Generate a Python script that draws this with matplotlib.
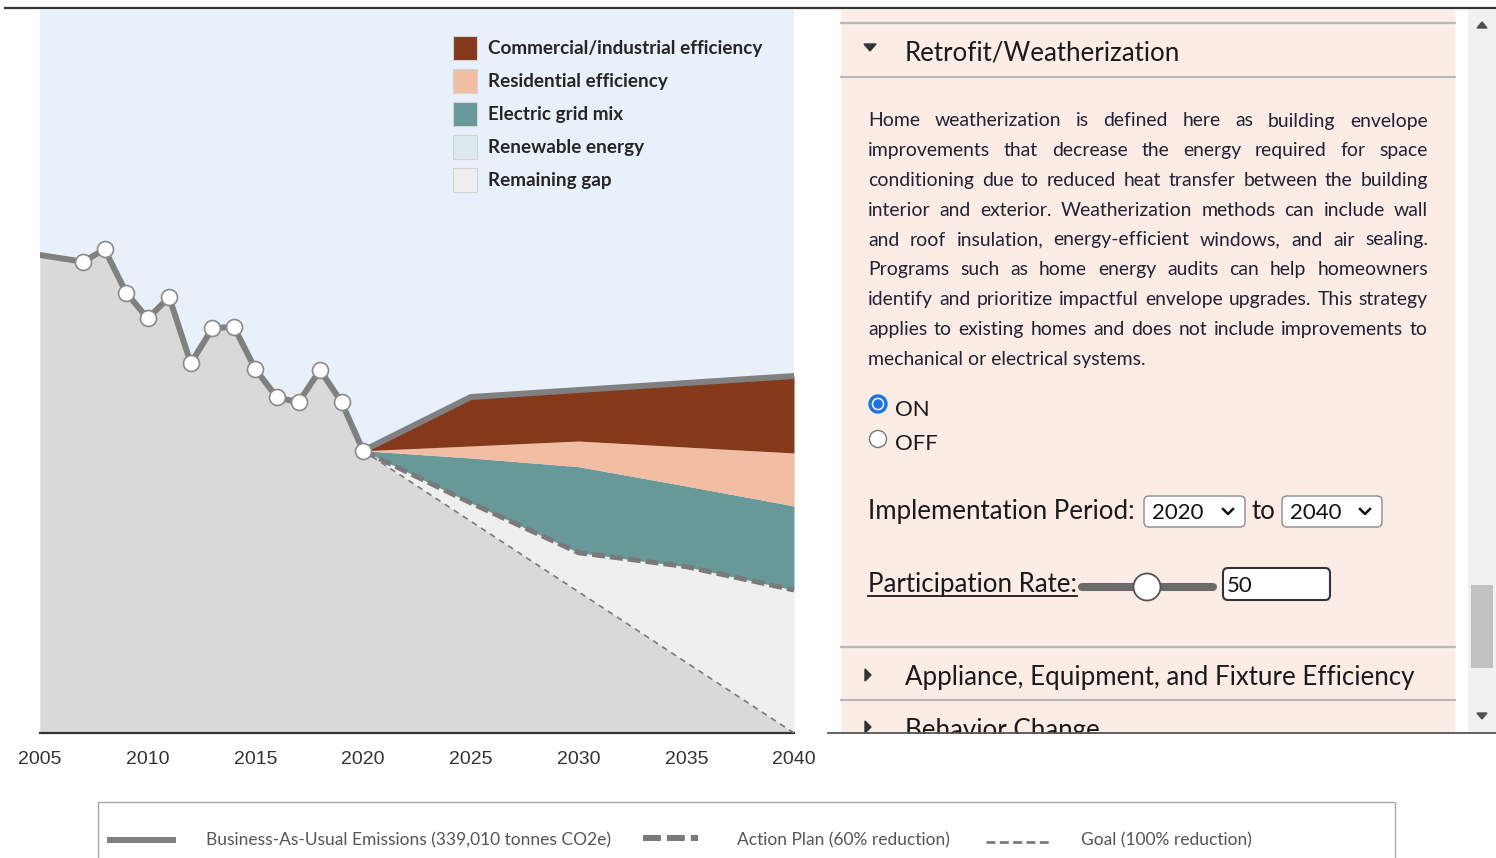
import numpy as np
import matplotlib
matplotlib.use("Agg")
import matplotlib.pyplot as plt
from matplotlib.patches import Patch, Rectangle, Circle, FancyBboxPatch, Polygon

# ---- data (tonnes CO2e) ----
hist_years = [2005, 2007, 2008, 2009, 2010, 2011, 2012, 2013, 2014, 2015, 2016, 2017, 2018, 2019, 2020]
hist_emissions = [453900, 447550, 459330, 418110, 393800, 413740, 351070, 384300,
                  385820, 345370, 318780, 314030, 344700, 314030, 268070]

proj_years = [2020, 2025, 2030, 2035, 2040]
bau = [268070, 319070, 325700, 332360, 339010]
commercial_cut = [0, 46500, 48400, 60800, 73100]
residential_cut = [0, 11400, 24400, 37000, 50300]
grid_cut = [0, 42700, 81700, 76600, 79800]
renewable_cut = [0, 0, 0, 0, 0]
goal = [268070, 201050, 134040, 67020, 0]

categories = ["Commercial/industrial efficiency", "Residential efficiency",
              "Electric grid mix", "Renewable energy", "Remaining gap"]
cat_colors = ["#84391a", "#f1bea3", "#679998", "#dde9ee", "#efefef"]
tick_years = [2005, 2010, 2015, 2020, 2025, 2030, 2035, 2040]

bau_label = "Business-As-Usual Emissions (339,010 tonnes CO2e)"
action_label = "Action Plan (60% reduction)"
goal_label = "Goal (100% reduction)"

paragraph = [
    "Home weatherization is defined here as building envelope",
    "improvements that decrease the energy required for space",
    "conditioning due to reduced heat transfer between the building",
    "interior and exterior. Weatherization methods can include wall",
    "and roof insulation, energy-efficient windows, and air sealing.",
    "Programs such as home energy audits can help homeowners",
    "identify and prioritize impactful envelope upgrades. This strategy",
    "applies to existing homes and does not include improvements to",
    "mechanical or electrical systems.",
]

UI = "Lato"
GRAY = "#808080"
HEAD = 18.6

W, H = 1496, 858
fig = plt.figure(figsize=(W / 100, H / 100), dpi=100)
fig.patch.set_facecolor("white")

# ---- chart ----
ax = fig.add_axes([40 / W, (H - 733) / H, 754 / W, 723 / H])
ax.set_facecolor("#e8f0fa")
ax.set_xlim(2005, 2040)
ax.set_ylim(0, 686600)

bau_a = np.array(bau)
action = bau_a - np.array(commercial_cut) - np.array(residential_cut) - np.array(grid_cut) - np.array(renewable_cut)
grid_top = action + np.array(grid_cut)
res_top = grid_top + np.array(residential_cut)

# gray base: history, then the goal path
ax.fill_between(hist_years + proj_years[1:], 0, hist_emissions + goal[1:], color="#d9d9d9", lw=0)
ax.fill_between(proj_years, goal, action, color=cat_colors[4], lw=0)
ax.fill_between(proj_years, action, action + np.array(renewable_cut), color=cat_colors[3], lw=0)
ax.fill_between(proj_years, action, grid_top, color=cat_colors[2], lw=0)
ax.fill_between(proj_years, grid_top, res_top, color=cat_colors[1], lw=0)
ax.fill_between(proj_years, res_top, bau, color=cat_colors[0], lw=0)

ax.plot(proj_years, action, color="#7a7a7a", lw=3.6, dashes=(2.6, 1.0), zorder=4)
ax.plot(proj_years, goal, color="#7a7a7a", lw=1.2, dashes=(3.5, 3), zorder=4)
ax.plot(proj_years, bau, color=GRAY, lw=4.3, solid_capstyle="butt", zorder=5)
ax.plot(hist_years, hist_emissions, color=GRAY, lw=4.3, zorder=6,
        marker="o", markevery=list(range(1, len(hist_years))), markersize=11.5,
        markerfacecolor="white", markeredgecolor="#8a8a8a", markeredgewidth=1.2)

for s in ["top", "left", "right"]:
    ax.spines[s].set_visible(False)
ax.spines["bottom"].set_color("#333333")
ax.spines["bottom"].set_linewidth(1.6)
ax.set_yticks([])
ax.set_xticks(tick_years)
ax.set_xticklabels([str(y) for y in tick_years], family="Liberation Sans", fontsize=14, color="#333333")
ax.tick_params(axis="x", length=0, pad=12.6)

handles = [Patch(facecolor=c, edgecolor="#d4d4d4", lw=0.8) for c in cat_colors]
ax.legend(handles, categories, loc="upper left",
          bbox_to_anchor=((453 - 40) / 754, (733 - 36) / 723),
          frameon=False, borderpad=0, borderaxespad=0,
          prop={"family": UI, "weight": "bold", "size": 13.6},
          handlelength=1.27, handleheight=1.55, labelspacing=0.5,
          handletextpad=0.58, labelcolor="#262626")

# ---- overlay in pixel coordinates ----
ov = fig.add_axes([0, 0, 1, 1], zorder=10)
ov.set_xlim(0, W)
ov.set_ylim(H, 0)
ov.axis("off")
ov.patch.set_alpha(0)

ov.plot([5, W], [8, 8], color="#333333", lw=1.6)

# right panel
ov.add_patch(Rectangle((841, 10), 614, 723, facecolor="#fbece5", lw=0, zorder=0))
for yy in [23, 77, 647, 700]:
    ov.plot([841, 1455], [yy, yy], color="#b8b8b8", lw=1.6, zorder=1)

ov.add_patch(Polygon([[864, 44], [876, 44], [870, 51]], closed=True, color="#333333"))
ov.text(905, 61, "Retrofit/Weatherization", family=UI, fontsize=HEAD, color="#1a1a1a", va="baseline")

# justified paragraph
r = fig.canvas.get_renderer()
x0, x1 = 868, 1428
base = 12.6


def width_of(s, size):
    t = ov.text(0, 0, s, family=UI, fontsize=size)
    w = t.get_window_extent(r).width
    t.remove()
    return w


widest = max(width_of(line, base) for line in paragraph[:-1])
psize = base * 553 / widest
para_kw = dict(family=UI, fontsize=psize, color="#222233", va="baseline")
for i, line in enumerate(paragraph):
    yb = 126.5 + i * 29.75
    if i == len(paragraph) - 1:
        ov.text(x0, yb, line, **para_kw)
        continue
    words = line.split()
    widths = [width_of(w, psize) for w in words]
    gap = (x1 - x0 - sum(widths)) / (len(words) - 1)
    xx = x0
    for w, wd in zip(words, widths):
        ov.text(xx, yb, w, **para_kw)
        xx += wd + gap

# radio buttons
ov.add_patch(Circle((878, 404), 9, facecolor="#1a73e8", edgecolor="#1a73e8", lw=1, zorder=3))
ov.add_patch(Circle((878, 404), 6.3, facecolor="white", lw=0, zorder=4))
ov.add_patch(Circle((878, 404), 4.8, facecolor="#1a73e8", lw=0, zorder=5))
ov.add_patch(Circle((878, 439), 8.5, facecolor="white", edgecolor="#767676", lw=1, zorder=3))
ov.text(895, 416, "ON", family=UI, fontsize=16, color="#1a1a1a", va="baseline")
ov.text(895, 450, "OFF", family=UI, fontsize=16, color="#1a1a1a", va="baseline")

# implementation period
ov.text(868, 519, "Implementation Period:", family=UI, fontsize=HEAD, color="#1a1a1a", va="baseline")
for bx, bw, label in [(1144, 101, "2020"), (1282, 100, "2040")]:
    ov.add_patch(FancyBboxPatch((bx + 3, 499), bw - 6, 25, boxstyle="round,pad=3,rounding_size=5",
                                facecolor="white", edgecolor="#8a8a8a", lw=1, zorder=3))
    ov.text(bx + 8, 519, label, family=UI, fontsize=16, color="#111111", va="baseline", zorder=4)
    cx = bx + bw - 17
    ov.plot([cx - 5, cx, cx + 5], [509, 514, 509], color="#111111", lw=1.8, zorder=4)
ov.text(1252, 519, "to", family=UI, fontsize=HEAD, color="#1a1a1a", va="baseline")

# participation rate
ov.text(868, 592, "Participation Rate:", family=UI, fontsize=HEAD, color="#1a1a1a", va="baseline")
ov.plot([868, 1077], [596, 596], color="#1a1a1a", lw=1.3)
ov.plot([1082, 1213], [587, 587], color="#6b6b6b", lw=5.8, solid_capstyle="round", zorder=3)
ov.add_patch(Circle((1147, 587), 13.5, facecolor="white", edgecolor="#555555", lw=1.3, zorder=4))
ov.add_patch(FancyBboxPatch((1226, 571), 101, 26, boxstyle="round,pad=3,rounding_size=5",
                            facecolor="white", edgecolor="#333333", lw=1.5, zorder=3))
ov.text(1227, 592, "50", family=UI, fontsize=16, color="#111111", va="baseline", zorder=4)

# collapsed sections
ov.add_patch(Polygon([[865, 669], [865, 681], [871, 675]], closed=True, color="#333333"))
ov.text(905, 685, "Appliance, Equipment, and Fixture Efficiency", family=UI, fontsize=HEAD,
        color="#1a1a1a", va="baseline")
ov.add_patch(Polygon([[865, 721], [865, 733], [871, 727]], closed=True, color="#333333"))
ov.text(905, 738, "Behavior Change", family=UI, fontsize=HEAD, color="#1a1a1a", va="baseline")
ov.add_patch(Rectangle((820, 734), 680, 60, facecolor="white", lw=0, zorder=8))

# scrollbar
ov.add_patch(Rectangle((1468, 10), 28, 723, facecolor="#f1f1f1", lw=0, zorder=1))
ov.add_patch(Rectangle((1471, 585), 22, 83, facecolor="#c1c1c1", lw=0, zorder=2))
ov.add_patch(Polygon([[1477, 28], [1487, 28], [1482, 22]], closed=True, color="#505050", zorder=2))
ov.add_patch(Polygon([[1477, 713], [1487, 713], [1482, 719]], closed=True, color="#505050", zorder=2))
ov.plot([828, W], [733, 733], color="#555555", lw=1.3, zorder=9)

# bottom legend
ov.add_patch(Rectangle((98, 802), 1297, 80, facecolor="white", edgecolor="#aaaaaa", lw=1))
leg_kw = dict(family=UI, fontsize=12.5, color="#555555", va="center")
ov.plot([107, 176], [840, 840], color=GRAY, lw=4.3, solid_capstyle="butt")
ov.text(206, 840, bau_label, **leg_kw)
ov.plot([643, 698], [838, 838], color="#7a7a7a", lw=4.3, dashes=(3.0, 1.0))
ov.text(737, 840, action_label, **leg_kw)
ov.plot([986, 1052], [842, 842], color="#7a7a7a", lw=2, dashes=(3.2, 1.6))
ov.text(1081, 840, goal_label, **leg_kw)

fig.savefig("out.png", dpi=100)
